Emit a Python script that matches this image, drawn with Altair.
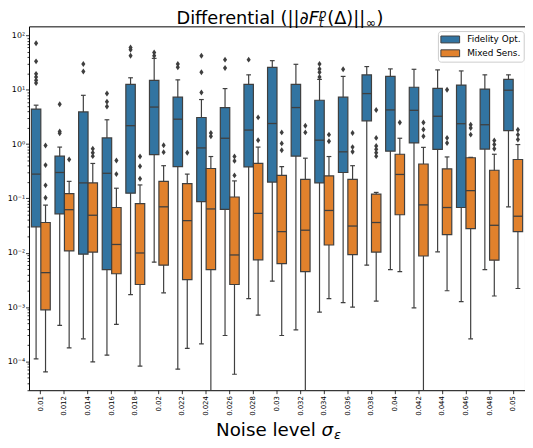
import altair as alt
import pandas as pd

noise = ["0.01", "0.012", "0.014", "0.016", "0.018", "0.02", "0.022", "0.024", "0.026",
         "0.028", "0.03", "0.032", "0.034", "0.036", "0.038", "0.04", "0.042", "0.044",
         "0.046", "0.048", "0.05"]
groups = ["Fidelity Opt.", "Mixed Sens."]

# Fidelity Opt. box statistics (whisker low, Q1, median, Q3, whisker high)
fid_lo = [1.11e-4, 4.6e-4, 2.6e-4, 1.3e-4, 0.0017, 0.0067, 7.2e-5, 2.1e-4, 3.0e-4, 0.00143, 0.0030,
          3.8e-4, 8.1e-4, 0.00121, 0.0059, 0.0049, 9.7e-4, 0.0104, 0.00126, 0.0049, 0.070]
fid_q1 = [0.030, 0.052, 0.0094, 0.0049, 0.125, 0.64, 0.385, 0.087, 0.063, 0.38, 0.20,
          0.60, 0.193, 0.30, 2.68, 0.74, 1.05, 0.80, 0.068, 0.81, 1.77]
fid_med = [0.28, 0.30, 0.193, 0.29, 2.18, 4.8, 2.87, 0.85, 1.28, 1.81, 2.39,
           4.7, 1.18, 0.72, 8.5, 4.25, 4.18, 3.25, 2.37, 2.27, 9.8]
fid_q3 = [4.4, 0.60, 3.9, 1.30, 12.6, 14.9, 7.3, 3.08, 4.7, 12.6, 25.9,
          12.6, 6.4, 7.3, 18.8, 17.6, 11.1, 10.6, 12.2, 10.3, 15.5]
fid_hi = [5.2, 0.88, 7.9, 2.8, 16.6, 37.8, 15.2, 6.6, 10.5, 18.8, 34.3,
          29.4, 15.5, 17.6, 26.7, 24.2, 23.8, 23.2, 22.2, 18.8, 18.8]

# Mixed Sens. box statistics (1e-7 = whisker running below the axis)
mix_lo = [6.4e-5, 1.77e-4, 9.8e-5, 4.8e-4, 8.2e-5, 0.00183, 1.74e-4, 1e-7, 5.8e-5, 7.1e-4, 3.0e-4,
          1e-7, 0.00143, 1.0e-3, 0.00129, 0.0045, 1e-7, 0.0020, 2.6e-4, 0.0016, 0.0022]
mix_q1 = [8.9e-4, 0.0108, 0.0103, 0.0041, 0.0026, 0.0059, 0.0032, 0.0049, 0.0026, 0.0074, 0.0063,
          0.0045, 0.0139, 0.0092, 0.0103, 0.050, 0.0087, 0.0216, 0.0277, 0.0073, 0.0245]
mix_med = [0.0043, 0.062, 0.049, 0.0142, 0.0099, 0.070, 0.039, 0.064, 0.0091, 0.053, 0.0245,
           0.026, 0.060, 0.031, 0.036, 0.276, 0.076, 0.068, 0.139, 0.032, 0.047]
mix_q3 = [0.036, 0.122, 0.193, 0.068, 0.080, 0.206, 0.187, 0.355, 0.106, 0.44, 0.265,
          0.224, 0.26, 0.224, 0.120, 0.65, 0.43, 0.35, 0.56, 0.33, 0.52]
mix_hi = [0.075, 0.206, 0.44, 0.154, 0.177, 0.40, 0.28, 0.59, 0.21, 0.88, 0.385,
          0.55, 0.59, 0.40, 0.129, 1.28, 0.87, 0.58, 0.57, 0.65, 0.98]

# Outliers per noise level
fid_out = [[71.6, 33.3, 19.6, 17.1, 14.9, 13.3], [5.4, 1.71, 1.58], [29.8, 21.7], [8.5, 6.0, 4.9],
           [59.8, 54.3, 42.3], [48.5, 42.3], [29.8, 25.9], [42.3, 21.0, 8.9], [35.8, 25.2], [35.8],
           [], [], [29.8, 24.2, 21.0, 17.1], [23.8], [], [], [], [], [], [], []]
mix_out = [[0.94, 0.41, 0.174, 0.103], [0.52], [0.82, 0.69, 0.60], [0.50, 0.28], [0.59, 0.39, 0.23],
           [0.95, 0.71], [0.69], [1.60, 1.39], [0.59, 0.49, 0.265], [3.1, 1.18], [1.64, 1.03, 0.77],
           [2.18, 1.64], [1.49, 1.13], [1.60, 0.88, 0.72], [4.25, 1.30, 0.92, 0.80, 0.69, 0.60],
           [2.5], [2.5, 1.86, 1.39], [10.0, 1.30, 1.05], [2.27, 1.97, 1.49], [1.16, 0.98, 0.82],
           [1.84, 1.49, 1.21]]

colors = ["#3274a1", "#e1812c"]
edge = "#3f3f3f"
FONT = "DejaVu Sans"

rows = []
for i, n in enumerate(noise):
    rows.append(dict(noise=n, group=groups[0], lo=fid_lo[i], q1=fid_q1[i], med=fid_med[i],
                     q3=fid_q3[i], hi=fid_hi[i]))
    rows.append(dict(noise=n, group=groups[1], lo=mix_lo[i], q1=mix_q1[i], med=mix_med[i],
                     q3=mix_q3[i], hi=mix_hi[i]))
box_df = pd.DataFrame(rows)

orows = []
for i, n in enumerate(noise):
    for v in fid_out[i]:
        orows.append(dict(noise=n, group=groups[0], val=v))
    for v in mix_out[i]:
        orows.append(dict(noise=n, group=groups[1], val=v))
out_df = pd.DataFrame(orows)

# log-axis tick positions (majors labelled, minors unlabelled)
yticks = [m * 10.0 ** k for k in range(-5, 3) for m in range(1, 10)
          if 2.95e-5 <= m * 10.0 ** k <= 146.8]
is_major = "abs(log(datum.value)/LN10 - round(log(datum.value)/LN10)) < 0.001"
label_expr = (is_major + " ? '10' + ['⁻⁵','⁻⁴','⁻³','⁻²','⁻¹','⁰','¹','²']"
              "[round(log(datum.value)/LN10)+5] : ''")

x_enc = alt.X("noise:N", sort=noise,
              scale=alt.Scale(paddingInner=0.2, paddingOuter=0.1),
              axis=alt.Axis(title=None, labelAngle=270, labelFontSize=7, labelFont=FONT,
                            labelColor="black", tickColor="black", tickSize=3.5,
                            tickWidth=0.8, labelPadding=2, domain=False, grid=False))
xo = alt.XOffset("group:N", sort=groups,
                 scale=alt.Scale(domain=groups, paddingInner=0, paddingOuter=0))
y_scale = alt.Scale(type="log", domain=[2.95e-5, 146.8], nice=False)
y_axis = alt.Axis(values=yticks, labelExpr=label_expr, title=None, grid=False, domain=False,
                  tickColor="black", tickWidth=0.8,
                  tickSize={"condition": {"test": is_major, "value": 3.5}, "value": 2},
                  labelFontSize=8, labelFont=FONT, labelColor="black", labelPadding=1,
                  labelOverlap=False, labelFlush=False)

base = alt.Chart(box_df)
whisk = base.mark_rule(color=edge, strokeWidth=1.2, clip=True).encode(
    x=x_enc, xOffset=xo, y=alt.Y("lo:Q", scale=y_scale, axis=y_axis), y2="hi:Q")

rect_path = "M-1.9,-0.7L1.9,-0.7L1.9,0.7L-1.9,0.7Z"
box = base.mark_bar(stroke=edge, strokeWidth=1.2, opacity=1).encode(
    x=x_enc, xOffset=xo, y=alt.Y("q1:Q"), y2="q3:Q",
    color=alt.Color("group:N", scale=alt.Scale(domain=groups, range=colors),
                    legend=alt.Legend(title=None, orient="none", legendX=414.7, legendY=4.8,
                                      symbolType=rect_path, symbolSize=100,
                                      symbolStrokeColor=edge, symbolStrokeWidth=1,
                                      symbolOffset=4, labelOffset=11.7, labelFontSize=9,
                                      labelFont=FONT, labelColor="black", padding=3,
                                      rowPadding=3, fillColor="white", strokeColor="#cccccc",
                                      cornerRadius=3, symbolOpacity=1)))
med = base.mark_tick(color=edge, thickness=1.3, size=9.5, opacity=1).encode(
    x=x_enc, xOffset=xo, y="med:Q")
cap_lo = base.mark_tick(color=edge, thickness=1.2, size=4.8, opacity=1, clip=True).encode(
    x=x_enc, xOffset=xo, y="lo:Q")
cap_hi = base.mark_tick(color=edge, thickness=1.2, size=4.8, opacity=1).encode(
    x=x_enc, xOffset=xo, y="hi:Q")

diamond = "M0,-1L0.7,0L0,1L-0.7,0Z"
outl = alt.Chart(out_df).mark_point(shape=diamond, filled=True, size=36, color=edge,
                                     opacity=1, strokeWidth=0).encode(
    x=x_enc, xOffset=xo, y="val:Q")


def label(text, x, y, size, align="left", italic=False):
    kw = dict(align=align, baseline="alphabetic", fontSize=size, font=FONT, color="black")
    if italic:
        kw["fontStyle"] = "italic"
    return alt.Chart(pd.DataFrame({"t": [text]})).mark_text(**kw).encode(
        text="t:N", x=alt.value(x), y=alt.value(y))


# title "Differential (||∂F_t^p(Δ)||_∞)" assembled from pieces
X1 = 294
title_parts = [
    label("Differential (||∂", X1 - 10.4, -2, 18, align="right"),
    label("F", X1 - 10.4, -2, 18, italic=True),
    label("p", X1, -8, 12, italic=True),
    label("t", X1, 1, 12, italic=True),
    label("(Δ)||", X1 + 8.5, -2, 18),
    label("∞", X1 + 47.5, 0.5, 12.6),
    label(")", X1 + 58.5, -2, 18),
]

# x-axis title "Noise level σ_ε"
xtitle = [
    label("Noise level", 189.7, 415, 18.5),
    label("σ", 296.7, 415, 18.5, italic=True),
    label("ε", 309.2, 418, 13, italic=True),
]

chart = alt.layer(whisk, box, med, cap_lo, cap_hi, outl, *title_parts, *xtitle).properties(
    width=503, height=369,
    autosize=alt.AutoSizeParams(type="none"),
    padding={"left": 21.3, "top": 15.5, "right": 0, "bottom": 56},
).configure_view(stroke="black", strokeWidth=1)

chart.save("out.html", embed_options={"renderer": "svg", "actions": False})
